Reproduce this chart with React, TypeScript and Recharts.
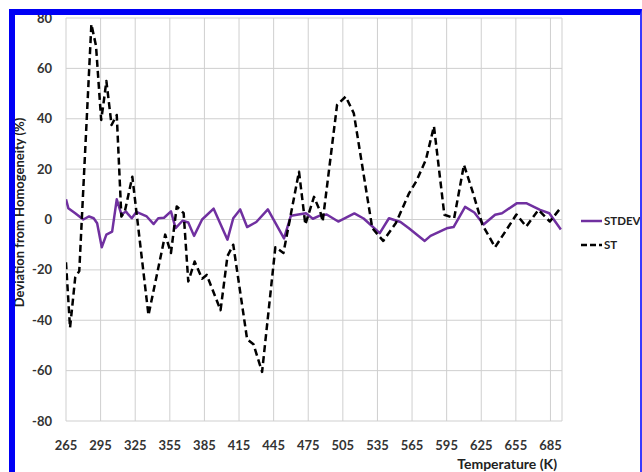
import { LineChart, Line, XAxis, YAxis, CartesianGrid, Legend } from "recharts";

// STDEV series (purple, solid)
const stdevTemps = [
  265, 267, 273, 280, 285, 289, 292, 296, 300, 305, 309, 313, 317, 319, 322, 326, 335, 341, 345, 350,
  356, 360, 366, 371, 376, 383, 393, 405, 410, 416, 422, 430, 440, 454, 460, 473, 479, 485, 491, 501,
  515, 523, 537, 545, 555, 562, 576, 581, 595, 601, 611, 619, 627, 637, 643, 656, 664, 676, 684, 694,
];
const stdevValues = [
  8, 4.5, 2.5, 0, 1.2, 0.5, -1.5, -11, -6, -4.8, 8, 2, 3.2, 2, 0.5, 3, 1.2, -1.8, 0.5, 0.7,
  3.2, -3.4, -0.5, -1.2, -6.5, 0, 4.3, -8, 0.5, 4, -3, -1, 4, -7.5, 1.5, 2.5, 0.3, 1.5, 2, -0.8,
  2.4, 0.4, -5.4, 0.5, -1, -3.4, -8.5, -6.5, -3.5, -3, 5, 2.8, -2, 1.9, 2.5, 6.5, 6.5, 3.8, 2.5, -4,
];

// ST series (black, dashed)
const stTemps = [
  265, 268.5, 273, 276.5, 287, 291, 295.5, 297.5, 300, 304.5, 309, 313, 316, 322.5, 336.5, 351, 356, 361, 367, 371,
  376.5, 383, 387, 399, 405, 410, 422, 427.5, 435, 446.5, 453.5, 467, 472.5, 480, 485.5, 487.5, 500, 507.5, 514.5, 530.5,
  540, 551, 562.5, 568.5, 577, 584, 593, 601.5, 610, 617.5, 626, 637, 655.5, 664, 674.5, 684.5, 694.5,
];
const stValues = [
  -17, -43, -23, -20.5, 77.5, 69, 39.5, 46, 55, 37.5, 41.5, 1.2, 3.2, 17, -38, -6, -13.3, 5.2, 2.5, -24.6,
  -16.7, -23.5, -22, -36, -14.5, -10, -47.5, -49.5, -60.5, -11, -13.3, 19, -2, 9, 3, -0.8, 45.5, 48.8, 42.2, -3.4,
  -8.5, -1.4, 10.5, 15, 23.7, 37, 1.9, 0.5, 21.7, 11.1, -2.1, -11, 2, -2.8, 3.8, -0.8, 5,
];

const xTicks = [265, 295, 325, 355, 385, 415, 445, 475, 505, 535, 565, 595, 625, 655, 685];
const yTicks = [-80, -60, -40, -20, 0, 20, 40, 60, 80];

const seriesNames = ["STDEV", "ST"];
const purple = "#7030a0";
const font = "Lato, 'Open Sans', sans-serif";

const stdevData = stdevTemps.map((t, i) => ({ t, v: stdevValues[i] }));
const stData = stTemps.map((t, i) => ({ t, v: stValues[i] }));

const tickStyle = { fill: "#333", fontSize: 13, fontWeight: 700, fontFamily: font };

const renderLegend = () => (
  <svg width={62} height={40}>
    <line x1={3} y1={10} x2={24} y2={10} stroke={purple} strokeWidth={2.5} />
    <text x={26} y={14} fontSize={11.5} fontWeight={700} fontFamily={font} fill="#222">
      {seriesNames[0]}
    </text>
    <line x1={3} y1={34} x2={24} y2={34} stroke="#000" strokeWidth={2.5} strokeDasharray="6 3" />
    <text x={26} y={38} fontSize={11.5} fontWeight={700} fontFamily={font} fill="#222">
      {seriesNames[1]}
    </text>
  </svg>
);

// y title sits just right of the blue frame, centred a bit above the plot middle
const YTitle = ({ viewBox }: any) => {
  const x = 24;
  const y = viewBox.y + viewBox.height / 2 - 7;
  return (
    <text
      x={x}
      y={y}
      transform={`rotate(-90, ${x}, ${y})`}
      textAnchor="middle"
      fill="#222"
      fontSize={13}
      fontWeight={700}
      fontFamily={font}
    >
      Deviation from Homogeneity (%)
    </text>
  );
};

export default function App() {
  return (
    <div
      style={{
        position: "absolute",
        left: 0,
        top: 0,
        width: 642,
        height: 472,
        overflow: "hidden",
        background: "#fff",
        fontFamily: font,
      }}
    >
      <LineChart width={642} height={472} margin={{ top: 18, right: 80, bottom: 0, left: 0 }}>
        <CartesianGrid stroke="#cfcfcf" strokeWidth={1} />
        <XAxis
          dataKey="t"
          type="number"
          domain={[265, 695]}
          ticks={xTicks}
          allowDataOverflow
          axisLine={false}
          tickLine={false}
          tickSize={0}
          tickMargin={20}
          height={51}
          tick={tickStyle}
          label={{
            value: "Temperature (K)",
            position: "insideBottomRight",
            offset: 3,
            dx: -2,
            style: { fill: "#222", fontSize: 14, fontWeight: 700, fontFamily: font },
          }}
        />
        <YAxis
          type="number"
          domain={[-80, 80]}
          ticks={yTicks}
          axisLine={false}
          tickLine={false}
          tickSize={0}
          tickMargin={14}
          width={66}
          tick={tickStyle}
          label={<YTitle />}
        />
        <Line
          data={stdevData}
          dataKey="v"
          name={seriesNames[0]}
          stroke={purple}
          strokeWidth={2.5}
          dot={false}
          strokeLinejoin="round"
          isAnimationActive={false}
        />
        <Line
          data={stData}
          dataKey="v"
          name={seriesNames[1]}
          stroke="#000"
          strokeWidth={2.5}
          strokeDasharray="7 4"
          dot={false}
          strokeLinejoin="round"
          isAnimationActive={false}
        />
        <Legend
          layout="vertical"
          align="center"
          verticalAlign="middle"
          content={renderLegend}
          wrapperStyle={{ left: 578, top: 211, width: 62, height: 40 }}
        />
      </LineChart>
      <div
        style={{
          position: "absolute",
          left: 9,
          top: 9,
          width: 633,
          height: 480,
          boxSizing: "border-box",
          borderTop: "6px solid #0000f5",
          borderLeft: "6px solid #0000f5",
          borderRight: "2px solid #3a3aff",
          pointerEvents: "none",
          zIndex: 10,
        }}
      />
    </div>
  );
}
